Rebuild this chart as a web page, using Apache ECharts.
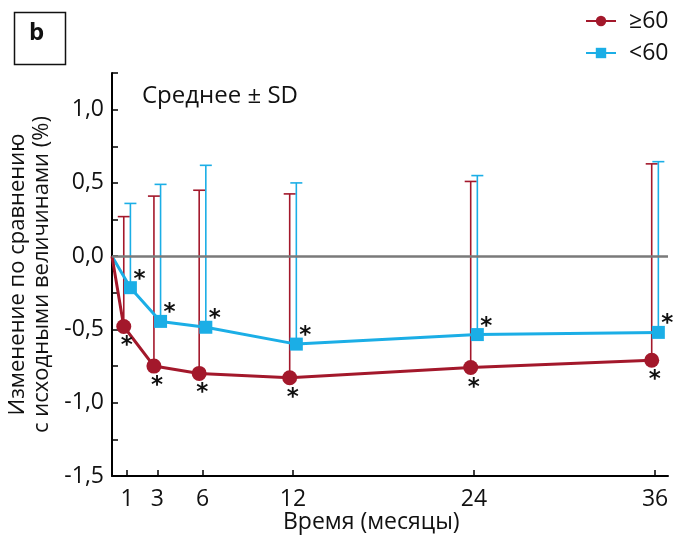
<!DOCTYPE html>
<html>
<head>
<meta charset="utf-8">
<script src="https://cdn.jsdelivr.net/npm/echarts@6/dist/echarts.min.js"></script>
<style>html,body{margin:0;padding:0;background:#fff;}#c{width:673px;height:543px;}</style>
</head>
<body>
<div id="c"></div>
<script>
const months = [0, 1, 3, 6, 12, 24, 36];
const oldMean = [0, -0.48, -0.75, -0.80, -0.83, -0.76, -0.71];
const oldUpper = [null, 0.27, 0.41, 0.45, 0.425, 0.51, 0.63];
const youngMean = [0, -0.215, -0.445, -0.485, -0.60, -0.535, -0.52];
const youngUpper = [null, 0.36, 0.49, 0.62, 0.50, 0.55, 0.645];
const xTicks = [1, 3, 6, 12, 24, 36];
const yLabels = [-1.5, -1.0, -0.5, 0, 0.5, 1.0];
const yTicks = [-1.5, -1.25, -1.0, -0.75, -0.5, -0.25, 0, 0.25, 0.5, 0.75, 1.0, 1.25];

const RED = '#A3182B';
const BLUE = '#1BAEE6';
const FONT = 'Open Sans';
const SHIFT = 0.22;

function lineData(mean, dir) {
  return months.map((m, i) => i === 0
    ? { value: [0, mean[0]], symbol: 'none', label: { show: false } }
    : [m + dir * SHIFT, mean[i]]);
}
function barData(mean, upper, dir) {
  const out = [];
  for (let i = 1; i < months.length; i++) out.push([months[i] + dir * SHIFT, mean[i], upper[i]]);
  return out;
}
function errRender(color) {
  return function (params, api) {
    const x = api.value(0), m = api.value(1), u = api.value(2);
    const p0 = api.coord([x, m]), p1 = api.coord([x, u]);
    return {
      type: 'group',
      children: [
        { type: 'line', shape: { x1: p0[0], y1: p0[1], x2: p1[0], y2: p1[1] }, style: { stroke: color, lineWidth: 1.6 } },
        { type: 'line', shape: { x1: p1[0] - 6, y1: p1[1], x2: p1[0] + 6, y2: p1[1] }, style: { stroke: color, lineWidth: 1.6 } }
      ]
    };
  };
}

const chart = echarts.init(document.getElementById('c'), null, { renderer: 'canvas' });
chart.setOption({
  animation: false,
  textStyle: { fontFamily: FONT },
  grid: { left: 112, right: 5, top: 73, bottom: 67, containLabel: false, outerBoundsMode: 'none' },
  legend: {
    data: ['≥60', '<60'],
    orient: 'vertical',
    left: 585,
    top: 8,
    padding: 0,
    itemWidth: 30,
    itemHeight: 13,
    itemGap: 6,
    textStyle: { fontFamily: FONT, fontSize: 23, color: '#111', lineHeight: 26, padding: [0, 0, 0, 8] }
  },
  xAxis: {
    type: 'value',
    min: 0,
    max: 36.86,
    axisLine: { show: true, onZero: false, lineStyle: { color: '#000', width: 2 } },
    axisTick: { show: true, inside: true, length: 6, customValues: xTicks, lineStyle: { color: '#000', width: 1.5 } },
    axisLabel: { customValues: xTicks, fontSize: 23, color: '#111', margin: 12, fontFamily: FONT },
    splitLine: { show: false }
  },
  yAxis: {
    type: 'value',
    min: -1.5,
    max: 1.25,
    name: 'Изменение по сравнению\nс исходными величинами (%)',
    nameLocation: 'middle',
    nameGap: 56,
    nameTextStyle: { fontSize: 22, color: '#111', lineHeight: 24, fontFamily: FONT },
    axisLine: { show: true, lineStyle: { color: '#000', width: 2 } },
    axisTick: { show: true, inside: true, length: 6, customValues: yTicks, lineStyle: { color: '#000', width: 1.5 } },
    axisLabel: {
      customValues: yLabels, fontSize: 23, color: '#111', margin: 8, fontFamily: FONT,
      formatter: v => v.toFixed(1).replace('.', ',')
    },
    splitLine: { show: false }
  },
  graphic: [
    { type: 'rect', left: 12, top: 10, shape: { width: 51, height: 52 }, style: { fill: 'none', stroke: '#111', lineWidth: 1.5 } },
    { type: 'text', left: 29, top: 21, style: { text: 'b', font: 'bold 24px "Open Sans"', fill: '#111' } },
    { type: 'text', left: 142, top: 84, style: { text: 'Среднее ± SD', font: '24px "Open Sans"', fill: '#111' } },
    { type: 'text', left: 283, top: 511, style: { text: 'Время (месяцы)', font: '23px "Open Sans"', fill: '#111' } }
  ],
  series: [
    {
      name: 'zero', type: 'line', data: [], silent: true,
      markLine: {
        silent: true, symbol: 'none', label: { show: false },
        lineStyle: { color: '#7a7a7a', width: 2.5, type: 'solid' },
        data: [{ yAxis: 0 }]
      }
    },
    {
      name: 'errOld', type: 'custom', renderItem: errRender(RED), data: barData(oldMean, oldUpper, -1),
      encode: { x: 0, y: [1, 2] }, z: 2, silent: true
    },
    {
      name: 'errYoung', type: 'custom', renderItem: errRender(BLUE), data: barData(youngMean, youngUpper, 1),
      encode: { x: 0, y: [1, 2] }, z: 2, silent: true
    },
    {
      name: '<60', type: 'line', data: lineData(youngMean, 1), z: 3,
      symbol: 'rect', symbolSize: 13, showAllSymbol: true,
      itemStyle: { color: BLUE }, lineStyle: { color: BLUE, width: 3 },
      label: { show: true, formatter: '*', position: 'inside', offset: [9, -8], fontSize: 23, fontWeight: 'bold', color: '#111', fontFamily: 'DejaVu Sans' }
    },
    {
      name: '≥60', type: 'line', data: lineData(oldMean, -1), z: 4,
      symbol: 'circle', symbolSize: 15, showAllSymbol: true,
      itemStyle: { color: RED }, lineStyle: { color: RED, width: 3 },
      label: { show: true, formatter: '*', position: 'inside', offset: [3, 20], fontSize: 23, fontWeight: 'bold', color: '#111', fontFamily: 'DejaVu Sans' }
    }
  ]
});
</script>
</body>
</html>
